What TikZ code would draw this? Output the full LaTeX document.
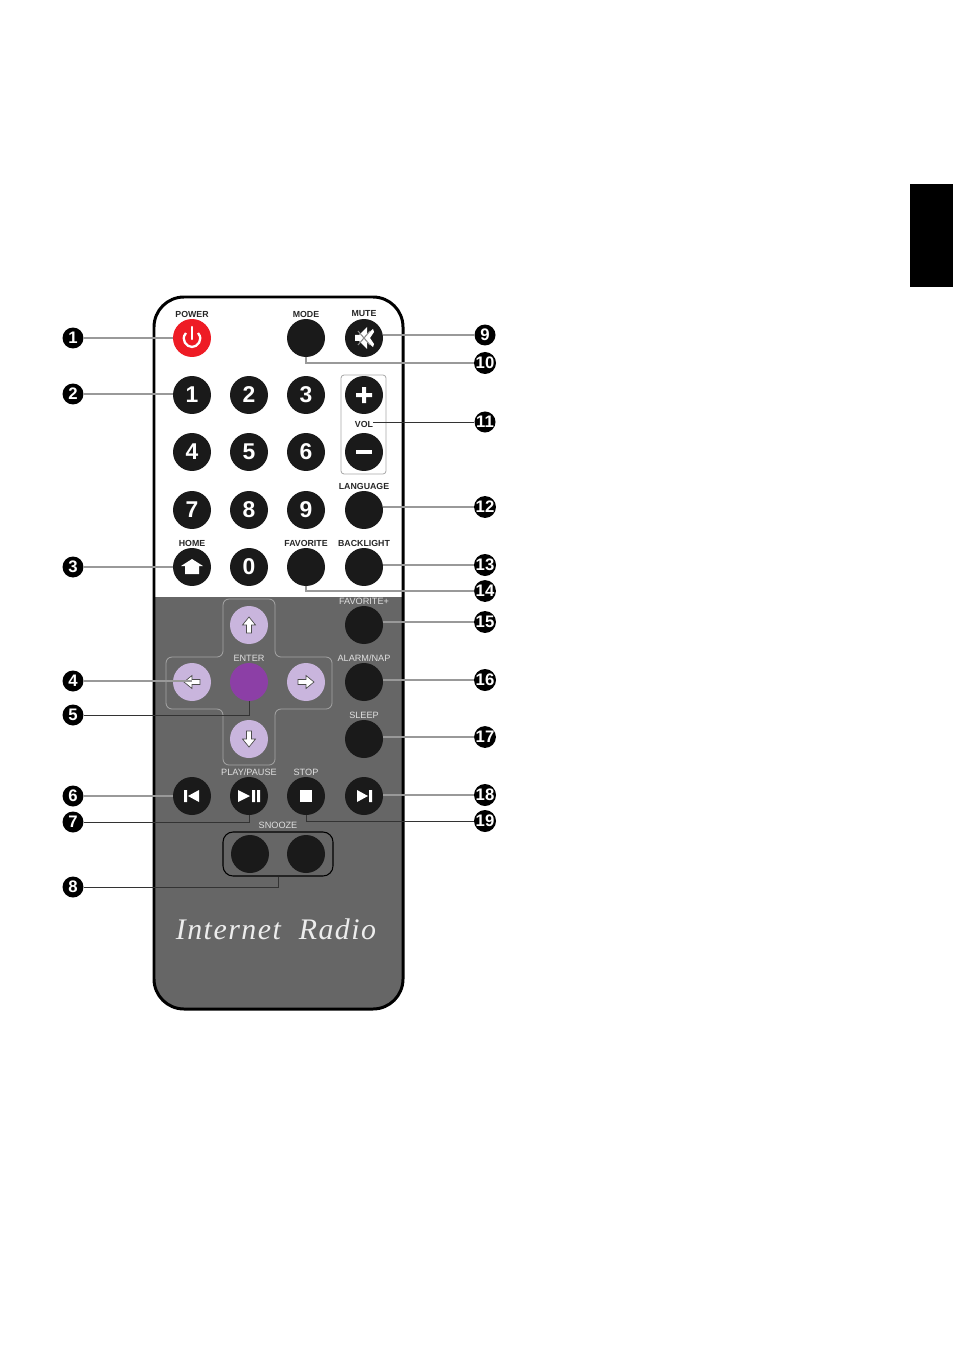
\documentclass[tikz,border=0pt]{standalone}
\usepackage{fontspec}
\setmainfont{Liberation Sans}
\newfontfamily\radiofont[LetterSpace=5]{Liberation Serif}
\usetikzlibrary{calc}
\definecolor{bodygrey}{HTML}{666666}
\definecolor{keyblack}{HTML}{1A1A1A}
\definecolor{lilac}{HTML}{C9B5DD}
\definecolor{enterpurple}{HTML}{8C3FA6}
\definecolor{powerred}{HTML}{EE1C25}
\definecolor{leadgrey}{HTML}{999999}
\tikzset{
	key/.style={circle, fill=keyblack, minimum size=.76cm, inner sep=0pt, text=white, font=\fontsize{13}{13}\selectfont\bfseries},
	callout/.style={circle, fill=black, minimum size=.42cm, inner sep=0pt, text=white, font=\fontsize{9.5}{9.5}\selectfont\bfseries},
	darklabel/.style={inner sep=0pt, text=black!85, font=\fontsize{5}{5}\selectfont\bfseries},
	lightlabel/.style={inner sep=0pt, text=black!12, font=\fontsize{5.2}{5.2}\selectfont},
	lead/.style={draw=leadgrey, line width=.9pt},
	thinlead/.style={draw=black!80, line width=.5pt},
	icon/.style={fill=white, draw=none},
	padarrow/.style={fill=white, draw=black!70, line width=.4pt}
}
\newcommand{\padicon}[2]{\draw[padarrow, shift={(#1.center)}, rotate=#2] (-8,-2.5) -- (0,-2.5) -- (0,-6.5) -- (8,0) -- (0,6.5) -- (0,2.5) -- (-8,2.5) -- cycle;}
\begin{document}
\begin{tikzpicture}[x=.02cm, y=-.02cm]
	\useasboundingbox (0,0) rectangle (954,1354);
	\fill[black] (910,184) rectangle (953,287);
	% body
	\begin{scope}
		\clip[rounded corners=.6cm] (154,297) rectangle (403,1009);
		\fill[bodygrey] (154,597) rectangle (403,1009);
	\end{scope}
	\draw[line width=1.7pt, rounded corners=.6cm] (154,297) rectangle (403,1009);
	% frames round the keys
	\draw[black!35, line width=.45pt, rounded corners=.12cm] (223,599) -- (275,599) -- (275,657) -- (332,657) -- (332,709) -- (275,709) -- (275,765) -- (223,765) -- (223,709) -- (166,709) -- (166,657) -- (223,657) -- cycle;
	\node[draw=black!35, line width=.45pt, rounded corners=.06cm, minimum width=.9cm, minimum height=1.98cm] (volframe) at (363.5,424.5) {};
	\node[draw=black, line width=.6pt, rounded corners=.2cm, minimum width=2.2cm, minimum height=.88cm] (snoozeframe) at (278,854) {};
	% keys
	\node[key, fill=powerred] (power) at (192,338) {};
	\node[key] (mode) at (306,338) {};
	\node[key] (mute) at (364,338) {};
	\foreach \n/\x/\y in {1/192/395, 2/249/395, 3/306/395, 4/192/452, 5/249/452, 6/306/452, 7/192/510, 8/249/510, 9/306/510, 0/249/567}
		\node[key] (num\n) at (\x,\y) {\n};
	\node[key] (volup) at (364,395) {};
	\node[key] (voldown) at (364,452) {};
	\foreach \name/\x/\y in {language/364/510, home/192/567, favorite/306/567, backlight/364/567, favplus/364/625, alarm/364/682, sleep/364/739, prev/192/796, play/249/796, stop/306/796, next/364/796, snoozea/250/854, snoozeb/306/854}
		\node[key] (\name) at (\x,\y) {};
	\foreach \name/\x/\y in {up/249/625, left/192/682, right/306/682, down/249/739}
		\node[key, fill=lilac] (\name) at (\x,\y) {};
	\node[key, fill=enterpurple] (enter) at (249,682) {};
	% labels
	\foreach \x/\y/\txt in {192/314/POWER, 306/314/MODE, 364/314/MUTE, 364/486/LANGUAGE, 192/543/HOME, 306/543/FAVORITE, 364/543/BACKLIGHT}
		\node[darklabel] at (\x,\y) {\txt};
	\node[darklabel] (vollabel) at (364,424) {VOL};
	\foreach \x/\y/\txt in {364/601/FAVORITE+, 249/658/ENTER, 364/658/{ALARM/NAP}, 364/715/SLEEP, 249/772/{PLAY/PAUSE}, 306/772/STOP, 278/825/SNOOZE}
		\node[lightlabel] at (\x,\y) {\txt};
	\node[text=black!7, font=\fontsize{17}{17}\selectfont\radiofont\itshape, inner sep=0pt] (brand) at (276,929) {Internet\ \ Radio};
	% icons
	\draw[white, line width=1.3pt, shift={(power.center)}] (-6,-5) .. controls (-12,2) and (-5,9) .. (0,9) .. controls (5,9) and (12,2) .. (6,-5);
	\draw[white, line width=1.3pt, line cap=round] ($(power.center)+(0,-11)$) -- ($(power.center)+(0,1)$);
	\fill[icon, shift={(mute.center)}] (-9,-3) -- (-5,-3) -- (3,-11) -- (3,11) -- (-5,3) -- (-9,3) -- cycle (3,-4) -- (9,-9) -- (10,-6) -- (6,0) -- (10,6) -- (9,9) -- (3,4) -- cycle;
	\draw[black!45, line width=.6pt, shift={(mute.center)}] (-6,-7) -- (6,7) (-6,7) -- (6,-7);
	\fill[icon, shift={(volup.center)}] (-8,-2) rectangle (8,2) (-2,-8) rectangle (2,8);
	\fill[icon, shift={(voldown.center)}] (-8,-2) rectangle (8,2);
	\fill[icon, shift={(home.center)}] (-11,-1) -- (0,-8) -- (11,-1) -- (7,-1) -- (7,7) -- (-7,7) -- (-7,-1) -- cycle;
	\padicon{up}{90}
	\padicon{left}{180}
	\padicon{right}{0}
	\padicon{down}{270}
	\fill[icon, shift={(prev.center)}] (-8,-6) rectangle (-5,6) (7,-6) -- (7,6) -- (-4,0) -- cycle;
	\fill[icon, shift={(play.center)}] (-11,-6) -- (1,0) -- (-11,6) -- cycle (3,-6) rectangle (6,6) (8,-6) rectangle (11,6);
	\fill[icon, shift={(stop.center)}] (-6,-6) rectangle (6,6);
	\fill[icon, shift={(next.center)}] (-7,-6) -- (4,0) -- (-7,6) -- cycle (5,-6) rectangle (8,6);
	% numbered callouts
	\foreach \n/\y in {1/338, 2/394, 3/567, 4/681, 5/715, 6/796, 7/822, 8/887}
		\node[callout] (c\n) at (73,\y) {\n};
	\foreach \n/\y in {9/335, 10/363, 11/422, 12/507, 13/565, 14/591, 15/622, 16/680, 17/737, 18/795, 19/821}
		\node[callout] (c\n) at (485,\y) {\n};
	% connectors
	\draw[lead] (c1) -- (power);
	\draw[lead] (c2) -- (c2 -| num1.west);
	\draw[lead] (c3) -- (home);
	\draw[lead] (c4) -- (c4 -| left.center);
	\draw[thinlead] (c5) -| (enter);
	\draw[lead] (c6) -- (c6 -| prev.west);
	\draw[thinlead] (c7) -| (play);
	\draw[thinlead] (c8) -| (snoozeframe);
	\draw[lead] (c9) -- (c9 -| mute.east);
	\draw[lead] (c10) -| (mode);
	\draw[thinlead] (c11) -- (c11 -| vollabel.east);
	\draw[lead] (c12) -- (c12 -| language.east);
	\draw[lead] (c13) -- (c13 -| backlight.east);
	\draw[lead] (c14) -| (favorite);
	\draw[lead] (c15) -- (c15 -| favplus.east);
	\draw[lead] (c16) -- (c16 -| alarm.east);
	\draw[lead] (c17) -- (c17 -| sleep.east);
	\draw[lead] (c18) -- (c18 -| next.east);
	\draw[thinlead] (c19) -| (stop);
\end{tikzpicture}
\end{document}
